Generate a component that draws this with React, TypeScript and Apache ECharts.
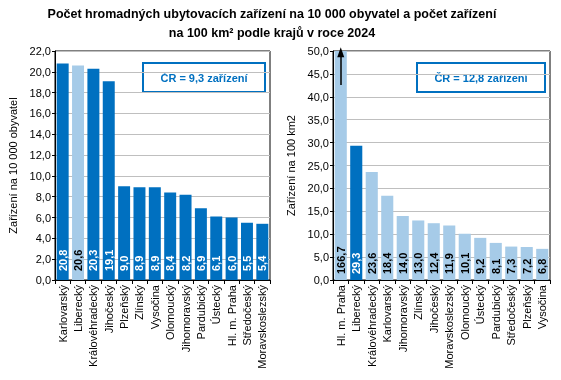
import React, { useEffect, useRef } from "react";
import * as echarts from "echarts";

const leftCategories = ["Karlovarský", "Liberecký", "Královéhradecký", "Jihočeský", "Plzeňský", "Zlínský", "Vysočina", "Olomoucký", "Jihomoravský", "Pardubický", "Ústecký", "Hl. m. Praha", "Středočeský", "Moravskoslezský"];
const leftValues = [20.8, 20.6, 20.3, 19.1, 9.0, 8.9, 8.9, 8.4, 8.2, 6.9, 6.1, 6.0, 5.5, 5.4];
const rightCategories = ["Hl. m. Praha", "Liberecký", "Královéhradecký", "Karlovarský", "Jihomoravský", "Zlínský", "Jihočeský", "Moravskoslezský", "Olomoucký", "Ústecký", "Pardubický", "Středočeský", "Plzeňský", "Vysočina"];
const rightValues = [166.7, 29.3, 23.6, 18.4, 14.0, 13.0, 12.4, 11.9, 10.1, 9.2, 8.1, 7.3, 7.2, 6.8];
const highlight = "Liberecký";
const leftAxis = { min: 0, max: 22, interval: 2 };
const rightAxis = { min: 0, max: 50, interval: 5 };
const leftNote = "ČR = 9,3 zařízení";
const rightNote = "ČR = 12,8 zařízení";
const titleText = "Počet hromadných ubytovacích zařízení na 10 000 obyvatel a počet zařízení\nna 100 km² podle krajů v roce 2024";

const DARK = "#0070C0";
const LIGHT = "#A6CBE8";
const FONT = "Liberation Sans";

const fmt = (v: number) => v.toFixed(1).replace(".", ",");

export default function App() {
  const ref = useRef<HTMLDivElement>(null);
  useEffect(() => {
    if (!ref.current) return;
    const chart = echarts.init(ref.current, null, { renderer: "svg" });

    const mk = (v: number, dark: boolean) => ({
      value: v,
      itemStyle: { color: dark ? DARK : LIGHT },
      label: { color: dark ? "#ffffff" : "#000000", textBorderWidth: 0, textBorderColor: "transparent" },
    });
    const leftData = leftValues.map((v, i) => mk(v, leftCategories[i] !== highlight));
    const rightData = rightValues.map((v, i) => mk(v, rightCategories[i] === highlight));

    const xAxisCommon = {
      type: "category" as const,
      axisLine: { lineStyle: { color: "#000", width: 1 } },
      axisTick: { show: true, length: 4, lineStyle: { color: "#000" } },
      axisLabel: { rotate: 90, fontSize: 11, fontFamily: FONT, color: "#000", margin: 5, interval: 0 },
    };
    const yAxisCommon = {
      type: "value" as const,
      nameLocation: "middle" as const,
      nameGap: 37,
      nameTextStyle: { fontSize: 11, fontFamily: FONT, color: "#000" },
      axisLine: { show: true, lineStyle: { color: "#000" } },
      axisTick: { show: true, length: 3, lineStyle: { color: "#000" } },
      axisLabel: { fontSize: 11, fontFamily: FONT, color: "#000", margin: 4, formatter: (v: number) => fmt(v) },
      splitLine: { show: true, lineStyle: { color: "#BFBFBF", width: 1 } },
    };
    const labelCommon = {
      show: true,
      position: "insideBottom" as const,
      rotate: 90,
      align: "left" as const,
      verticalAlign: "middle" as const,
      fontSize: 11,
      fontWeight: "bold" as const,
      fontFamily: FONT,
      textBorderWidth: 0,
      formatter: (p: any) => fmt(p.value),
    };

    chart.setOption({
      animation: false,
      grid: [
        { left: 55, right: 291, top: 51, bottom: 100, show: true, borderColor: "#000", borderWidth: 1, backgroundColor: "transparent" },
        { left: 333, right: 11, top: 51, bottom: 100, show: true, borderColor: "#000", borderWidth: 1, backgroundColor: "transparent" },
      ],
      xAxis: [
        { ...xAxisCommon, gridIndex: 0, data: leftCategories },
        { ...xAxisCommon, gridIndex: 1, data: rightCategories },
      ],
      yAxis: [
        { ...yAxisCommon, gridIndex: 0, ...leftAxis, name: "Zařízení na 10 000 obyvatel" },
        { ...yAxisCommon, gridIndex: 1, ...rightAxis, name: "Zařízení na 100 km2" },
      ],
      series: [
        {
          type: "bar",
          xAxisIndex: 0,
          yAxisIndex: 0,
          data: leftData,
          barCategoryGap: "22%",
          label: { ...labelCommon, distance: 9 },
        },
        {
          type: "bar",
          xAxisIndex: 1,
          yAxisIndex: 1,
          data: rightData,
          barCategoryGap: "22%",
          clip: true,
          label: { ...labelCommon, distance: 6 },
          markLine: {
            silent: true,
            animation: false,
            label: { show: false },
            lineStyle: { color: "#000", width: 1.5, type: "solid" },
            symbolSize: [7, 10],
            data: [
              [
                { coord: [0, 42.6], symbol: "none" },
                { coord: [0, 49.7], symbol: "triangle" },
              ],
            ],
          },
        },
      ],
      graphic: [
        {
          type: "text",
          x: 272,
          y: 4,
          style: {
            text: titleText,
            textAlign: "center",
            font: `bold 12.5px "${FONT}"`,
            lineHeight: 19,
            fill: "#000",
          },
        },
        {
          type: "rect",
          shape: { x: 143, y: 63, width: 122, height: 29 },
          style: { fill: "#fff", stroke: DARK, lineWidth: 2 },
        },
        {
          type: "text",
          x: 204,
          y: 77.5,
          style: { text: leftNote, textAlign: "center", textVerticalAlign: "middle", font: `bold 11px "${FONT}"`, fill: DARK },
        },
        {
          type: "rect",
          shape: { x: 417, y: 63, width: 128, height: 29 },
          style: { fill: "#fff", stroke: DARK, lineWidth: 2 },
        },
        {
          type: "text",
          x: 481,
          y: 78,
          style: { text: rightNote, textAlign: "center", textVerticalAlign: "middle", font: `bold 11px "${FONT}"`, fill: DARK },
        },
      ],
    });
    return () => chart.dispose();
  }, []);
  return <div ref={ref} style={{ position: "fixed", left: 0, top: 0, width: 561, height: 380 }} />;
}
